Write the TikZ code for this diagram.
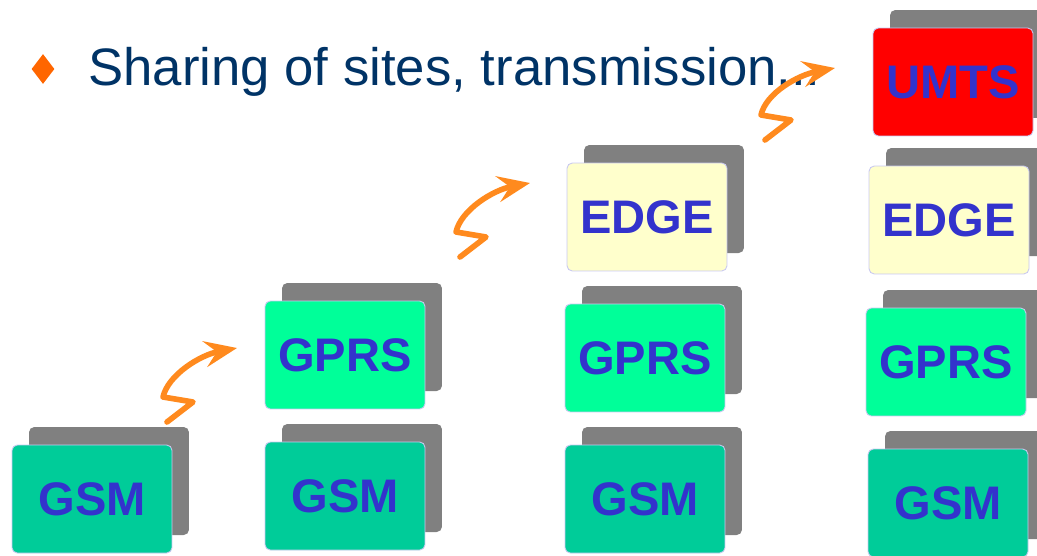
\documentclass[tikz,border=0pt]{standalone}
\usepackage{fontspec}
\setmainfont{Liberation Sans}
\usepackage{tikz}
\usetikzlibrary{arrows.meta,shadows,shapes.geometric}
\definecolor{TitleCol}{HTML}{003366}
\definecolor{BulletCol}{HTML}{FF6600}
\definecolor{SwooshCol}{HTML}{FF8A1E}
\definecolor{LabelCol}{HTML}{3333CC}
\definecolor{EdgeLine}{HTML}{C8C8F0}
\definecolor{ShadeCol}{HTML}{808080}
\definecolor{GsmBG}{HTML}{00CC99}
\definecolor{GprsBG}{HTML}{00FF99}
\definecolor{EdgeBG}{HTML}{FFFFCC}
\definecolor{UmtsBG}{HTML}{FF0000}

\begin{document}
\begin{tikzpicture}[x=0.02cm, y=-0.02cm, >=Stealth]
  \tikzstyle{techb}=[draw=EdgeLine, line width=0.5pt, rounded corners=3pt,
               minimum width=3.2cm, minimum height=2.16cm, inner sep=0pt,
               font=\fontsize{26.8}{30}\selectfont\bfseries, text=LabelCol,
               general shadow={shadow xshift=0.34cm, shadow yshift=0.36cm,
                               fill=ShadeCol, draw=none}]
  \tikzstyle{swoosh}=[SwooshCol, line width=3.2pt, line cap=round, line join=round,
               -{Stealth[length=0.65cm, width=0.52cm, inset=0.24cm]}]
  \useasboundingbox (0,0) rectangle (1037,555);
  % title line
  \node[diamond, fill=BulletCol, inner sep=0pt, minimum width=0.46cm,
        minimum height=0.6cm, aspect=0.8] (bullet) at (43,69) {};
  \node[anchor=base west, inner sep=0pt, text=TitleCol,
        font=\fontsize{30}{36}\selectfont] (title) at (88,85)
        {Sharing of sites, transmission...};
  % first step
  \node[techb, fill=GsmBG] (gsm1) at (92,499) {GSM};
  % second step
  \node[techb, fill=GprsBG] (gprs2) at (345,355) {GPRS};
  \node[techb, fill=GsmBG] (gsm2) at (345,496) {GSM};
  % third step
  \node[techb, fill=EdgeBG] (edge3) at (647,217) {EDGE};
  \node[techb, fill=GprsBG] (gprs3) at (645,358) {GPRS};
  \node[techb, fill=GsmBG] (gsm3) at (645,499) {GSM};
  % fourth step
  \node[techb, fill=UmtsBG] (umts4) at (953,82) {UMTS};
  \node[techb, fill=EdgeBG] (edge4) at (949,220) {EDGE};
  \node[techb, fill=GprsBG] (gprs4) at (946,362) {GPRS};
  \node[techb, fill=GsmBG] (gsm4) at (948,503) {GSM};
  % swoosh arrows between steps
  \coordinate (up1) at (167,422); \coordinate (tip1) at (237,348);
  \coordinate (up2) at (460,257); \coordinate (tip2) at (530,183);
  \coordinate (up3) at (765,140); \coordinate (tip3) at (835,68);
  \draw[swoosh] (up1) -- ++(26,-20) -- ++(-30,-5)
        .. controls +(5,-22) and +(-37,7) .. (tip1);
  \draw[swoosh] (up2) -- ++(26,-20) -- ++(-30,-5)
        .. controls +(5,-22) and +(-37,7) .. (tip2);
  \draw[swoosh] (up3) -- ++(26,-20) -- ++(-30,-5)
        .. controls +(5,-22) and +(-37,7) .. (tip3);
\end{tikzpicture}
\end{document}
